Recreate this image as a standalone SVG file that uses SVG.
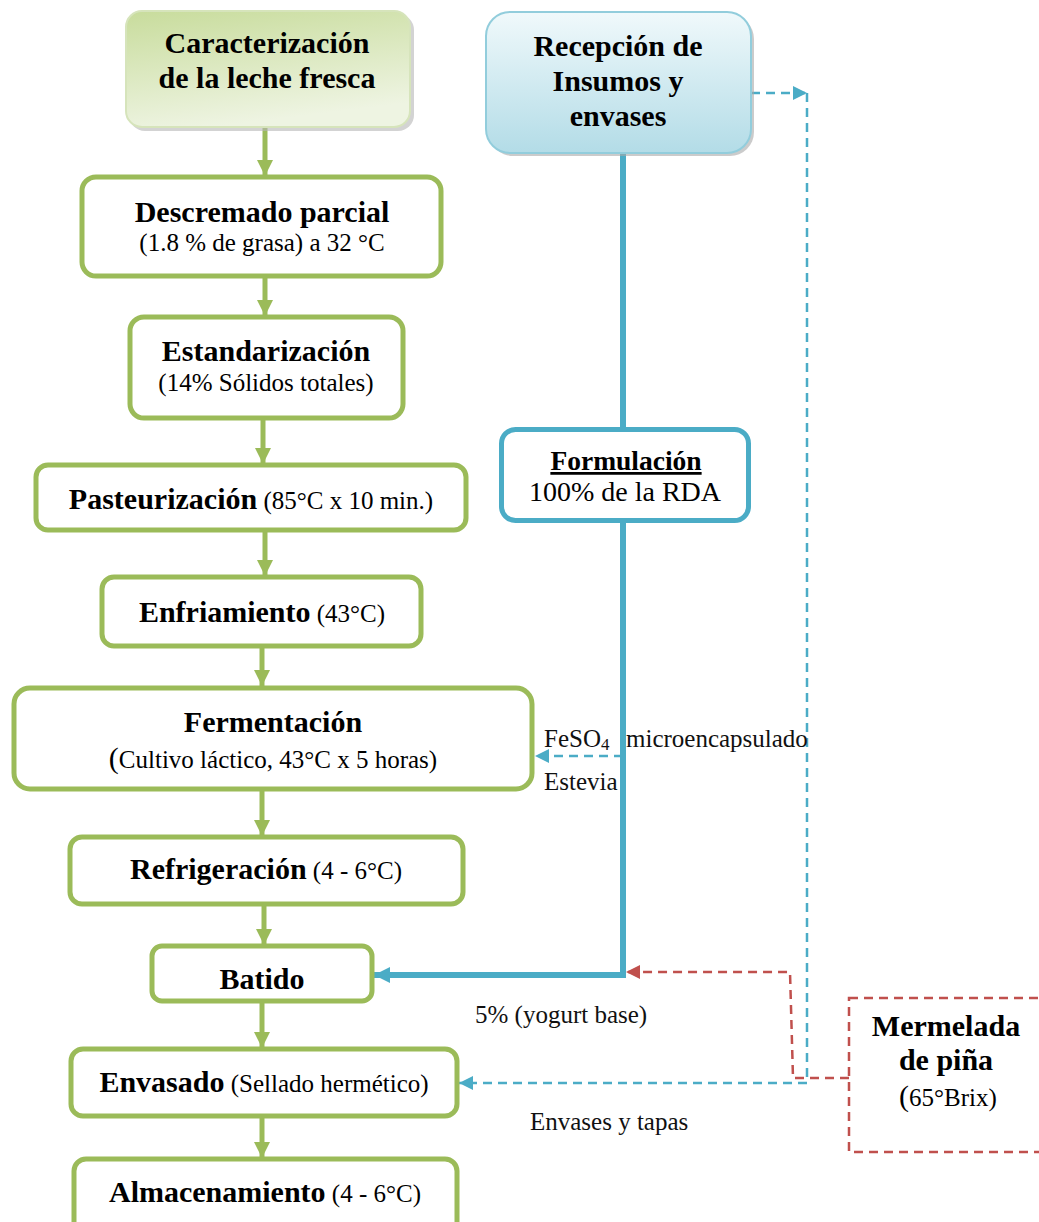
<svg xmlns="http://www.w3.org/2000/svg" width="1039" height="1222" viewBox="0 0 1039 1222">
<defs>
<linearGradient id="gGreen" x1="0" y1="0" x2="0.3" y2="1">
<stop offset="0" stop-color="#c8dc9c"/><stop offset="1" stop-color="#eef4e2"/>
</linearGradient>
<linearGradient id="gBlue" x1="0" y1="0" x2="0" y2="1">
<stop offset="0" stop-color="#f0f9fb"/><stop offset="1" stop-color="#b3dce7"/>
</linearGradient>
<marker id="aG" markerUnits="userSpaceOnUse" markerWidth="18" markerHeight="16" refX="16" refY="8" orient="auto"><path d="M0,0 L16,8 L0,16 Z" fill="#9bbb59"/></marker>
<marker id="aB" markerUnits="userSpaceOnUse" markerWidth="18" markerHeight="16" refX="16" refY="8" orient="auto"><path d="M0,0 L16,8 L0,16 Z" fill="#4bacc6"/></marker>
<marker id="aBs" markerUnits="userSpaceOnUse" markerWidth="16" markerHeight="14" refX="14" refY="7" orient="auto"><path d="M0,0 L14,7 L0,14 Z" fill="#4bacc6"/></marker>
<marker id="aR" markerUnits="userSpaceOnUse" markerWidth="16" markerHeight="14" refX="14" refY="7" orient="auto"><path d="M0,0 L14,7 L0,14 Z" fill="#c0504d"/></marker>
</defs>
<style>
.box{fill:#fff;stroke:#9bbb59;stroke-width:5}
.bx{font-family:"Liberation Serif","Times New Roman",serif;font-weight:bold;font-size:30px;fill:#000}
.nx{font-family:"Liberation Serif","Times New Roman",serif;font-size:25px;fill:#000}
.lbl{font-family:"Liberation Serif","Times New Roman",serif;font-size:25px;fill:#111}
.ga{stroke:#9bbb59;stroke-width:5;fill:none;marker-end:url(#aG)}
.bl{stroke:#4bacc6;stroke-width:6;fill:none}
.bd{stroke:#4bacc6;stroke-width:2.5;fill:none;stroke-dasharray:9,6}
.rd{stroke:#c0504d;stroke-width:2.5;fill:none;stroke-dasharray:9,6}
</style>
<rect width="1039" height="1222" fill="#fff"/>
<g id="connectors">
<line class="ga" x1="265" y1="128" x2="265" y2="176"/>
<line class="ga" x1="265" y1="278" x2="265" y2="316"/>
<line class="ga" x1="263" y1="420" x2="263" y2="464"/>
<line class="ga" x1="265" y1="532" x2="265" y2="576"/>
<line class="ga" x1="262" y1="648" x2="262" y2="686"/>
<line class="ga" x1="262" y1="790" x2="262" y2="836"/>
<line class="ga" x1="264" y1="904" x2="264" y2="945"/>
<line class="ga" x1="262" y1="1003" x2="262" y2="1048"/>
<line class="ga" x1="262" y1="1118" x2="262" y2="1158"/>
<line class="bl" x1="623" y1="153" x2="623" y2="428"/>
<polyline class="bl" points="623,522 623,975 374,975" marker-end="url(#aB)"/>
<line class="bd" x1="623" y1="756" x2="535" y2="756" marker-end="url(#aBs)"/>
<line class="bd" x1="751" y1="93" x2="807" y2="93" marker-end="url(#aBs)"/>
<polyline class="bd" points="807,93 807,1083 459,1083" marker-end="url(#aBs)"/>
<polyline class="rd" points="849,1078 793,1078 790,972 626,972" marker-end="url(#aR)"/>
</g>
<g id="caracterizacion">
<rect x="129" y="14" width="285" height="117" rx="16" fill="#b5b5b5" opacity="0.6"/>
<rect x="126" y="11" width="284" height="116" rx="16" fill="url(#gGreen)" stroke="#d6e4bb" stroke-width="2"/>
<text class="bx" x="267" y="53" text-anchor="middle">Caracterización</text>
<text class="bx" x="267" y="88" text-anchor="middle">de la leche fresca</text>
</g>
<g id="recepcion">
<rect x="489" y="15" width="265" height="141" rx="24" fill="#a9a9a9" opacity="0.6"/>
<rect x="486" y="12" width="265" height="141" rx="24" fill="url(#gBlue)" stroke="#92cddc" stroke-width="2"/>
<text class="bx" x="618" y="56" text-anchor="middle">Recepción de</text>
<text class="bx" x="618" y="91" text-anchor="middle">Insumos y</text>
<text class="bx" x="618" y="126" text-anchor="middle">envases</text>
</g>
<g id="descremado">
<rect class="box" x="82" y="177" width="359" height="99" rx="14"/>
<text class="bx" x="262" y="222" text-anchor="middle">Descremado parcial</text>
<text class="nx" x="262" y="251" text-anchor="middle">(1.8 % de grasa) a 32 °C</text>
</g>
<g id="estandarizacion">
<rect class="box" x="130" y="317" width="273" height="101" rx="14"/>
<text class="bx" x="266" y="361" text-anchor="middle">Estandarización</text>
<text class="nx" x="266" y="391" text-anchor="middle">(14% Sólidos totales)</text>
</g>
<g id="pasteurizacion">
<rect class="box" x="36" y="465" width="430" height="65" rx="12"/>
<text x="251" y="509" text-anchor="middle"><tspan class="bx">Pasteurización</tspan><tspan class="nx"> (85°C x 10 min.)</tspan></text>
</g>
<g id="enfriamiento">
<rect class="box" x="102" y="577" width="319" height="69" rx="12"/>
<text x="262" y="622" text-anchor="middle"><tspan class="bx">Enfriamiento</tspan><tspan class="nx"> (43°C)</tspan></text>
</g>
<g id="fermentacion">
<rect class="box" x="14" y="688" width="518" height="101" rx="16"/>
<text class="bx" x="273" y="732" text-anchor="middle">Fermentación</text>
<text class="nx" x="273" y="768" text-anchor="middle"><tspan font-size="30">(</tspan>Cultivo láctico, 43°C x 5 horas)</text>
</g>
<g id="refrigeracion">
<rect class="box" x="70" y="837" width="393" height="67" rx="12"/>
<text x="266" y="879" text-anchor="middle"><tspan class="bx">Refrigeración</tspan><tspan class="nx"> (4 - 6°C)</tspan></text>
</g>
<g id="batido">
<rect class="box" x="152" y="946" width="220" height="55" rx="10"/>
<text class="bx" x="262" y="989" text-anchor="middle">Batido</text>
</g>
<g id="envasado">
<rect class="box" x="71" y="1049" width="386" height="67" rx="12"/>
<text x="264" y="1092" text-anchor="middle"><tspan class="bx">Envasado</tspan><tspan class="nx"> (Sellado hermético)</tspan></text>
</g>
<g id="almacenamiento">
<rect class="box" x="74" y="1159" width="383" height="80" rx="12"/>
<text x="265" y="1202" text-anchor="middle"><tspan class="bx">Almacenamiento</tspan><tspan class="nx"> (4 - 6°C)</tspan></text>
</g>
<g id="formulacion">
<rect x="501.5" y="429.5" width="247" height="91" rx="14" fill="#fff" stroke="#4bacc6" stroke-width="5"/>
<text class="bx" x="626" y="470" text-anchor="middle" style="font-size:27.5px" text-decoration="underline">Formulación</text>
<text class="nx" x="625" y="501" text-anchor="middle" style="font-size:28px">100% de la RDA</text>
</g>
<g id="mermelada">
<rect x="849" y="998" width="200" height="154" fill="none" stroke="#c0504d" stroke-width="2.5" stroke-dasharray="9,6"/>
<text class="bx" x="946" y="1036" text-anchor="middle">Mermelada</text>
<text class="bx" x="946" y="1070" text-anchor="middle">de piña</text>
<text class="nx" x="948" y="1106" text-anchor="middle"><tspan font-size="30">(</tspan>65°Brix)</text>
</g>
<g id="labels">
<text class="lbl" x="544" y="747">FeSO<tspan font-size="17" dy="3">4</tspan><tspan dy="-3" x="626">microencapsulado</tspan></text>
<text class="lbl" x="544" y="790">Estevia</text>
<text class="lbl" x="475" y="1023">5% (yogurt base)</text>
<text class="lbl" x="530" y="1130">Envases y tapas</text>
</g>
</svg>
